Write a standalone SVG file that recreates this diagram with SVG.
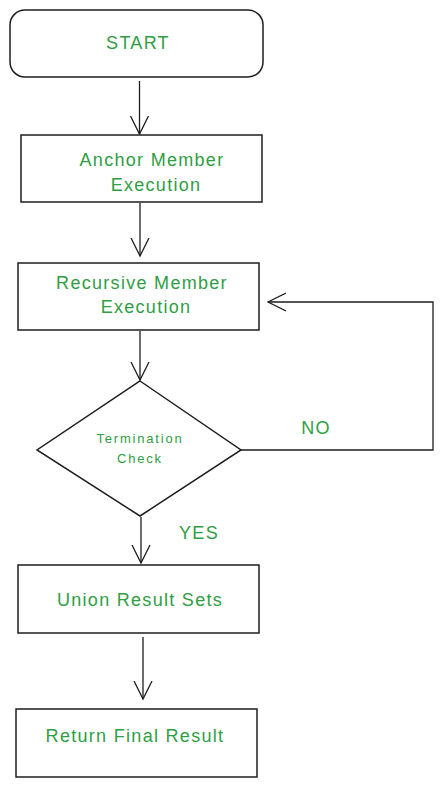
<svg xmlns="http://www.w3.org/2000/svg" width="443" height="787" viewBox="0 0 443 787">
<style>
.box{fill:#fff;stroke:#1e1e1e;stroke-width:1.5}
.lbl{fill:#2f9e44;font-family:"Liberation Sans",Arial,sans-serif;font-size:18px;letter-spacing:1.3px;text-anchor:middle}
.sm{font-size:13px;letter-spacing:1.8px}
.edge{fill:none;stroke:#1e1e1e;stroke-width:1.3}
</style>
<defs>
<marker id="arr" viewBox="0 0 20 20" refX="18" refY="10" markerWidth="20" markerHeight="20" markerUnits="userSpaceOnUse" orient="auto">
<path d="M0,1 L18,10 L0,19" fill="none" stroke="#1e1e1e" stroke-width="1.3"/>
</marker>
</defs>
<rect width="443" height="787" fill="#fff"/>
<g id="edges">
<path class="edge" d="M139.5,81 V134" marker-end="url(#arr)"/>
<path class="edge" d="M140,203 V256" marker-end="url(#arr)"/>
<path class="edge" d="M140,331 V380" marker-end="url(#arr)"/>
<path class="edge" d="M241,450 H433 V302 H268" marker-end="url(#arr)"/>
<path class="edge" d="M141,517 V563" marker-end="url(#arr)"/>
<path class="edge" d="M143,637 V699" marker-end="url(#arr)"/>
<text class="lbl" x="316" y="434">NO</text>
<text class="lbl" x="199" y="539">YES</text>
</g>
<g id="start">
<rect class="box" x="10" y="10" width="253" height="67" rx="15"/>
<text class="lbl" x="138" y="49">START</text>
</g>
<g id="anchor">
<rect class="box" x="21" y="135" width="241" height="67"/>
<text class="lbl" x="152" y="166">Anchor Member</text>
<text class="lbl" x="156" y="191">Execution</text>
</g>
<g id="recursive">
<rect class="box" x="18" y="263" width="241" height="67"/>
<text class="lbl" x="142" y="289">Recursive Member</text>
<text class="lbl" x="146" y="313">Execution</text>
</g>
<g id="check">
<polygon class="box" points="140,381 241,450 140,516 37,450"/>
<text class="lbl sm" x="140" y="443">Termination</text>
<text class="lbl sm" x="140" y="463">Check</text>
</g>
<g id="union">
<rect class="box" x="18" y="565" width="241" height="68"/>
<text class="lbl" x="140" y="606">Union Result Sets</text>
</g>
<g id="return">
<rect class="box" x="16" y="709" width="241" height="68"/>
<text class="lbl" x="135" y="742">Return Final Result</text>
</g>
</svg>
